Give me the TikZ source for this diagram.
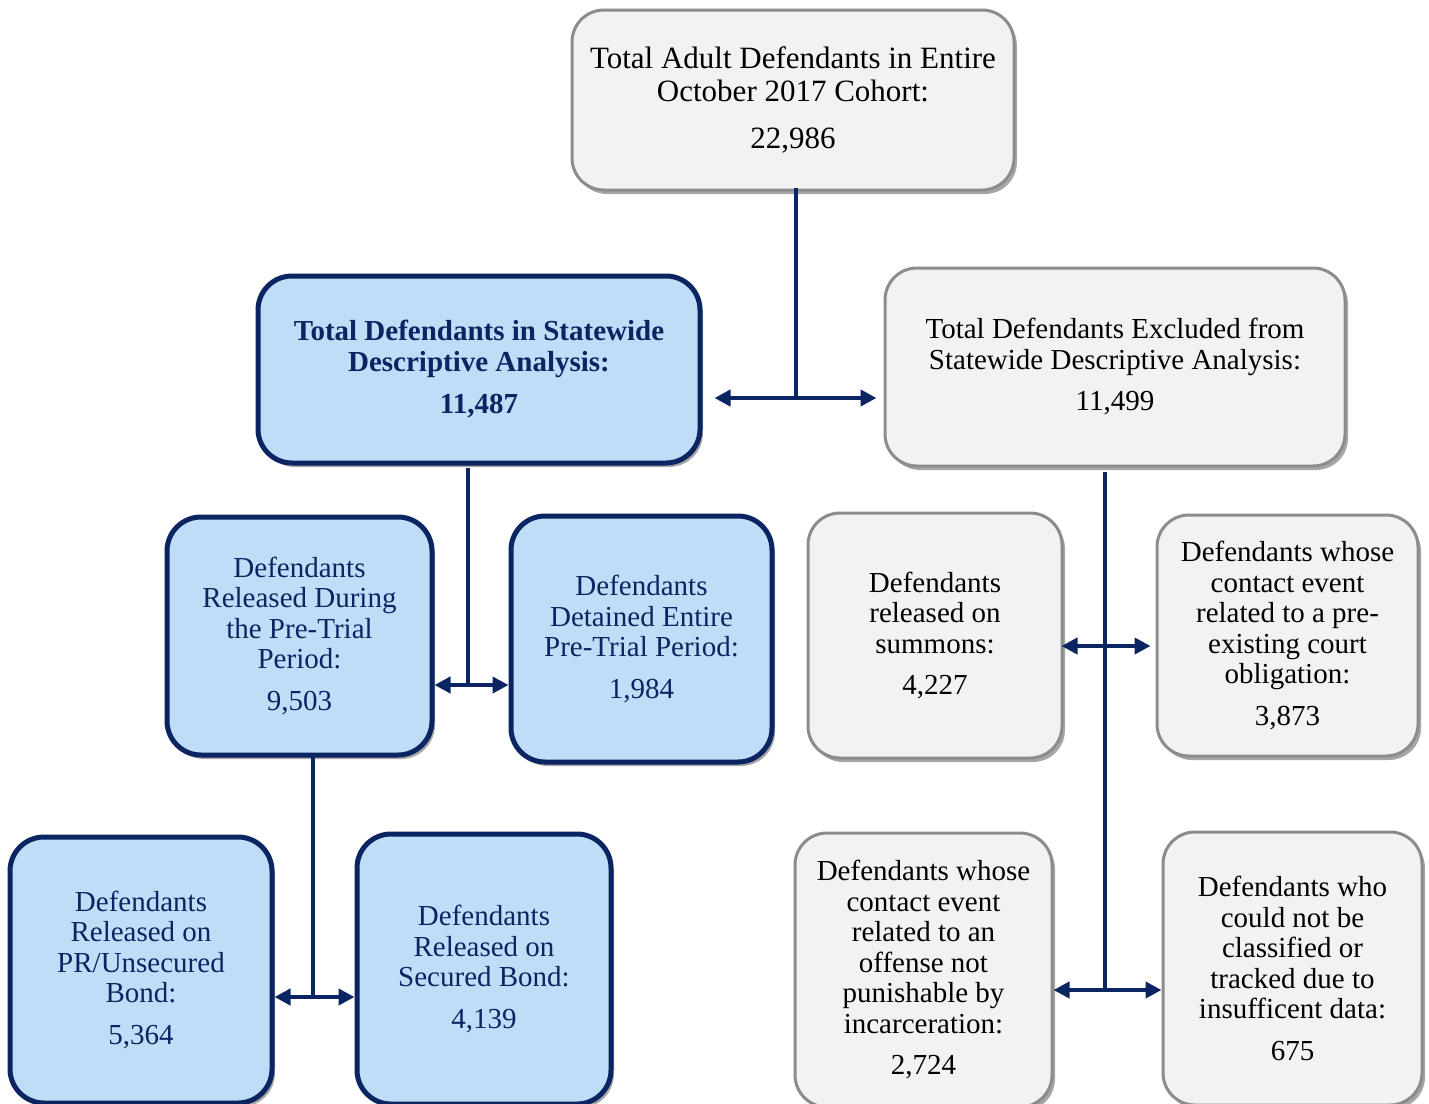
\documentclass[tikz,border=0pt]{standalone}
\usepackage{fontspec}
\setmainfont{Liberation Serif}
\usetikzlibrary{arrows.meta,shadows,calc}
\definecolor{navy}{HTML}{0B2462}
\definecolor{boxblue}{HTML}{C0DDF7}
\definecolor{boxgray}{HTML}{F2F2F2}
\definecolor{edgegray}{HTML}{8C8C8C}
\tikzset{
  graybox/.style={rounded corners=32pt, fill=boxgray, draw=edgegray, line width=3pt,
    align=center, inner sep=0pt, text=black,
    drop shadow={shadow xshift=3pt, shadow yshift=-4pt, opacity=0.35, fill=black},
    font=\fontsize{29}{30.5}\selectfont},
  bluebox/.style={rounded corners=34pt, fill=boxblue, draw=navy, line width=5pt,
    align=center, inner sep=0pt, text=navy,
    drop shadow={shadow xshift=3pt, shadow yshift=-4pt, opacity=0.35, fill=black},
    font=\fontsize{29}{30.5}\selectfont},
  link/.style={draw=navy, line width=4pt},
  arr/.style={draw=navy, line width=4pt, -{Triangle[length=16pt,width=16pt]}},
}
\begin{document}
\begin{tikzpicture}[x=1pt,y=-1pt]
\useasboundingbox (0,0) rectangle (1429,1103);
\clip (0,0) rectangle (1429,1103);
\fill[white] (0,0) rectangle (1429,1103);

% boxes
\node[graybox, minimum width=442pt, minimum height=180pt, font=\fontsize{31}{33}\selectfont] (top) at (793,100)
  {Total Adult Defendants in Entire\\October 2017 Cohort:\\[14pt]22,986};
\node[bluebox, minimum width=442pt, minimum height=187pt, font=\fontsize{29}{31}\selectfont\bfseries] (stat) at (479,369.5)
  {Total Defendants in Statewide\\Descriptive Analysis:\\[11pt]11,487};
\node[graybox, minimum width=460pt, minimum height=198pt] (excl) at (1115,367)
  {Total Defendants Excluded from\\Statewide Descriptive Analysis:\\[11pt]11,499};
\node[bluebox, minimum width=265pt, minimum height=238pt] (rel) at (299.5,636)
  {Defendants\\Released During\\the Pre-Trial\\Period:\\[11pt]9,503};
\node[bluebox, minimum width=261pt, minimum height=246pt] (det) at (641.5,639)
  {Defendants\\Detained Entire\\Pre-Trial Period:\\[11pt]1,984};
\node[graybox, minimum width=254pt, minimum height=245pt] (sum) at (935,635.5)
  {Defendants\\released on\\summons:\\[11pt]4,227};
\node[graybox, minimum width=261pt, minimum height=241pt] (pre) at (1287.5,635.5)
  {Defendants whose\\contact event\\related to a pre-\\existing court\\obligation:\\[11pt]3,873};
\node[bluebox, minimum width=262pt, minimum height=266pt] (pr) at (141,970)
  {Defendants\\Released on\\PR/Unsecured\\Bond:\\[11pt]5,364};
\node[bluebox, minimum width=254pt, minimum height=270pt] (sec) at (484,969)
  {Defendants\\Released on\\Secured Bond:\\[11pt]4,139};
\node[graybox, minimum width=257pt, minimum height=274pt] (off) at (923.5,970)
  {Defendants whose\\contact event\\related to an\\offense not\\punishable by\\incarceration:\\[11pt]2,724};
\node[graybox, minimum width=259pt, minimum height=273pt] (cls) at (1292.5,968.5)
  {Defendants who\\could not be\\classified or\\tracked due to\\insufficent data:\\[11pt]675};

% junctions
\coordinate (j1) at (796,398);
\coordinate (j2) at (468,685);
\coordinate (j3) at (313,997);
\coordinate (j4) at (1105,646);
\coordinate (j5) at (1105,990);

% connectors
\draw[link] ($(j1 |- top.south)+(0,-4)$) -- (j1);
\draw[arr, shorten >=12pt] (j1) -- (j1 -| stat.east);
\draw[arr, shorten >=7pt] (j1) -- (j1 -| excl.west);

\draw[link] ($(j2 |- stat.south)+(0,2)$) -- (j2);
\draw[arr] (j2) -- (j2 -| rel.east);
\draw[arr] (j2) -- (j2 -| det.west);

\draw[link] ($(j3 |- rel.south)+(0,-3)$) -- (j3);
\draw[arr] (j3) -- (j3 -| pr.east);
\draw[arr] (j3) -- (j3 -| sec.west);

\draw[link] ($(j4 |- excl.south)+(0,4)$) -- (j5);
\draw[arr, shorten >=-2pt] (j4) -- (j4 -| sum.east);
\draw[arr, shorten >=5pt] (j4) -- (j4 -| pre.west);
\draw[arr] (j5) -- (j5 -| off.east);
\draw[arr] (j5) -- (j5 -| cls.west);
\end{tikzpicture}
\end{document}
